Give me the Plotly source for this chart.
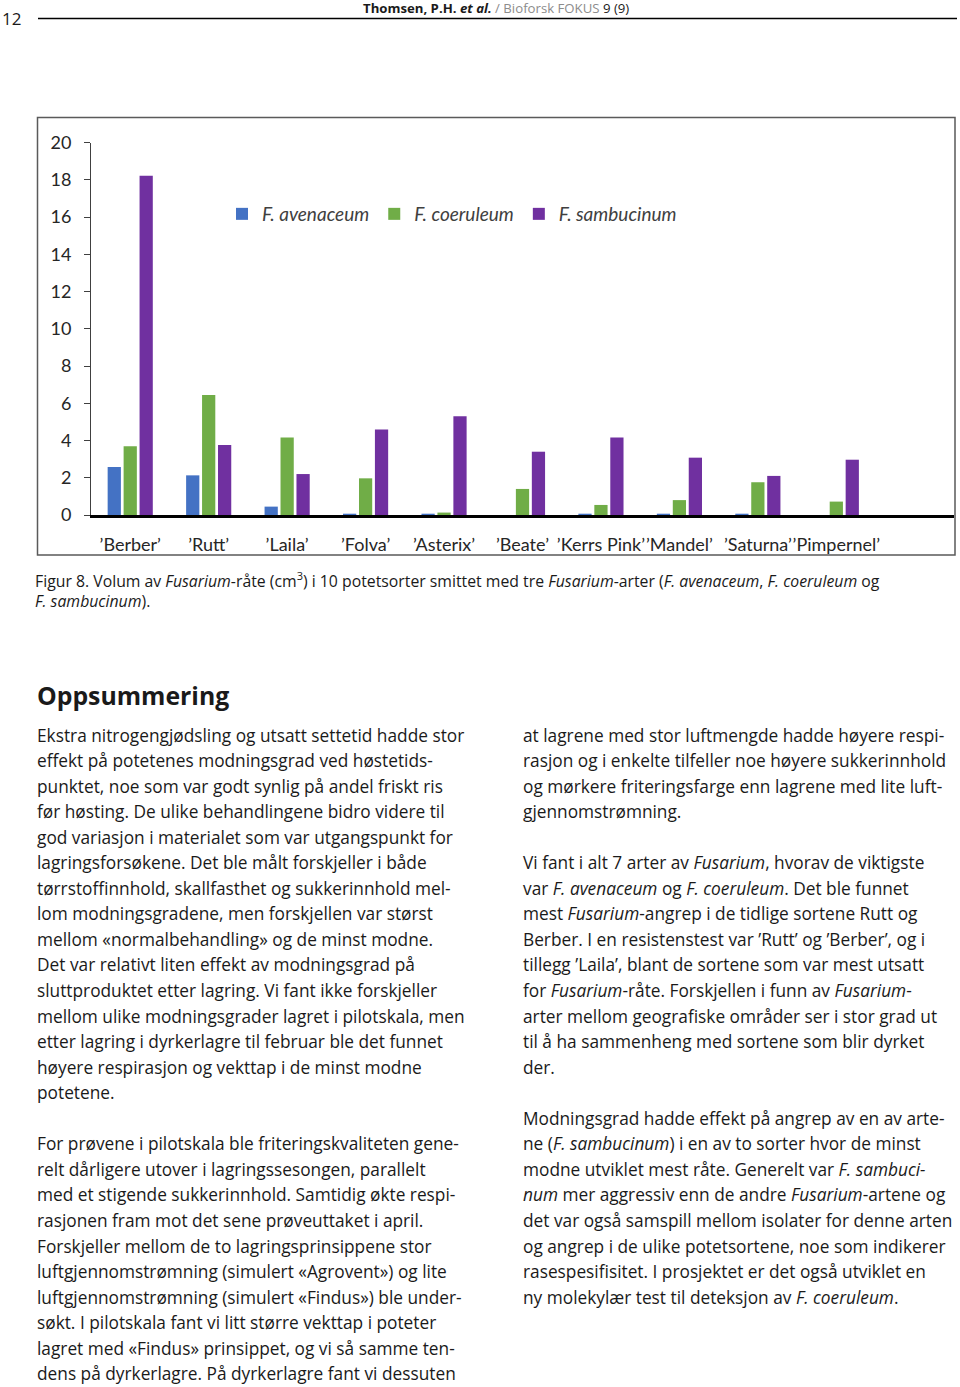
import plotly.graph_objects as go

# ---------------- data ----------------
categories = ["’Berber’", "’Rutt’", "’Laila’", "’Folva’", "’Asterix’",
              "’Beate’", "’Kerrs Pink’", "’Mandel’", "’Saturna’", "’Pimpernel’"]
f_avenaceum = [2.58, 2.13, 0.45, 0.03, 0.03, 0.0, 0.04, 0.05, 0.06, 0.0]
f_coeruleum = [3.69, 6.45, 4.17, 1.97, 0.13, 1.40, 0.54, 0.80, 1.76, 0.72]
f_sambucinum = [18.22, 3.76, 2.20, 4.59, 5.30, 3.40, 4.17, 3.08, 2.10, 2.97]
series_names = ["F. avenaceum", "F. coeruleum", "F. sambucinum"]
series_colors = ["#4472C4", "#70AD47", "#7030A0"]
y_ticks = [0, 2, 4, 6, 8, 10, 12, 14, 16, 18, 20]

W, H = 960, 1387


def px(x):
    return x / W


def py(y):
    return 1 - y / H


fig = go.Figure()
for name, vals, col in zip(series_names, [f_avenaceum, f_coeruleum, f_sambucinum], series_colors):
    fig.add_trace(go.Bar(x=categories, y=vals, name=name,
                         marker=dict(color=col, line=dict(width=0))))

CHART_FONT = "Lato, Carlito, sans-serif"
TEXT_FONT = "Open Sans, sans-serif"

fig.update_layout(
    width=W, height=H,
    margin=dict(l=0, r=0, t=0, b=0, pad=0, autoexpand=False),
    paper_bgcolor="white", plot_bgcolor="white",
    barmode="group", bargap=0.39, bargroupgap=0.17,
    showlegend=True,
    legend=dict(orientation="h", x=px(222), xanchor="left", y=py(214), yanchor="middle",
                font=dict(family=CHART_FONT, size=19, color="#404040", style="italic"),
                bgcolor="rgba(0,0,0,0)", traceorder="normal"),
    xaxis=dict(domain=[px(91), px(954)], range=[-0.5, 10.5], type="category",
               showline=True, linecolor="black", linewidth=2.5, showgrid=False,
               ticks="outside", ticklen=0, tickcolor="rgba(0,0,0,0)",
               ticklabelstandoff=12, tickangle=0, automargin=False,
               tickfont=dict(family=CHART_FONT, size=18, color="#262626")),
    yaxis=dict(domain=[py(515), py(142.7)], range=[0, 20], tickvals=y_ticks,
               showline=True, linecolor="#404040", linewidth=1, showgrid=False,
               zeroline=False, ticks="outside", ticklen=6, tickcolor="#404040",
               ticklabelstandoff=9, automargin=False,
               tickfont=dict(family=CHART_FONT, size=18, color="#262626")),
)

shapes = []
# chart frame
shapes.append(dict(type="rect", xref="paper", yref="paper",
                   x0=px(37.5), x1=px(955), y0=py(555), y1=py(117.5),
                   line=dict(color="#5a5a5a", width=1.5), fillcolor="rgba(0,0,0,0)", layer="below"))
# header rule
shapes.append(dict(type="line", xref="paper", yref="paper",
                   x0=px(38), x1=px(957), y0=py(18.5), y1=py(18.5),
                   line=dict(color="black", width=1.5)))
fig.update_layout(shapes=shapes)

ann = []


def text(x, y, s, size=17.3, color="#1a1a1a", family=TEXT_FONT, xanchor="left", yanchor="middle"):
    ann.append(dict(xref="paper", yref="paper", x=px(x), y=py(y), text=s,
                    showarrow=False, xanchor=xanchor, yanchor=yanchor, align="left",
                    font=dict(family=family, size=size, color=color)))


# header
text(0, 18, "12", size=17, color="#1a1a1a")
text(496, 7.5, "<b>Thomsen, P.H.</b> <b><i>et al.</i></b> <span style='color:#8c8c8c'>/ Bioforsk FOKUS</span> 9 (9)",
     size=13.2, color="#1a1a1a", xanchor="center")

# caption (two lines in one text block)
text(33, 566.5, "Figur 8. Volum av <i>Fusarium</i>-råte (cm<sup>3</sup>) i 10 potetsorter smittet med tre "
                "<i>Fusarium</i>-arter (<i>F. avenaceum</i>, <i>F. coeruleum</i> og<br>"
                "<i>F. sambucinum</i>).", size=15.8, yanchor="top")

# heading
text(35, 695, "<b>Oppsummering</b>", size=24.8)

left_lines = [
    "Ekstra nitrogengjødsling og utsatt settetid hadde stor",
    "effekt på potetenes modningsgrad ved høstetids-",
    "punktet, noe som var godt synlig på andel friskt ris",
    "før høsting. De ulike behandlingene bidro videre til",
    "god variasjon i materialet som var utgangspunkt for",
    "lagringsforsøkene. Det ble målt forskjeller i både",
    "tørrstoffinnhold, skallfasthet og sukkerinnhold mel-",
    "lom modningsgradene, men forskjellen var størst",
    "mellom «normalbehandling» og de minst modne.",
    "Det var relativt liten effekt av modningsgrad på",
    "sluttproduktet etter lagring. Vi fant ikke forskjeller",
    "mellom ulike modningsgrader lagret i pilotskala, men",
    "etter lagring i dyrkerlagre til februar ble det funnet",
    "høyere respirasjon og vekttap i de minst modne",
    "potetene.",
    "",
    "For prøvene i pilotskala ble friteringskvaliteten gene-",
    "relt dårligere utover i lagringssesongen, parallelt",
    "med et stigende sukkerinnhold. Samtidig økte respi-",
    "rasjonen fram mot det sene prøveuttaket i april.",
    "Forskjeller mellom de to lagringsprinsippene stor",
    "luftgjennomstrømning (simulert «Agrovent») og lite",
    "luftgjennomstrømning (simulert «Findus») ble under-",
    "søkt. I pilotskala fant vi litt større vekttap i poteter",
    "lagret med «Findus» prinsippet, og vi så samme ten-",
    "dens på dyrkerlagre. På dyrkerlagre fant vi dessuten",
]

right_lines = [
    "at lagrene med stor luftmengde hadde høyere respi-",
    "rasjon og i enkelte tilfeller noe høyere sukkerinnhold",
    "og mørkere friteringsfarge enn lagrene med lite luft-",
    "gjennomstrømning.",
    "",
    "Vi fant i alt 7 arter av <i>Fusarium</i>, hvorav de viktigste",
    "var <i>F. avenaceum</i> og <i>F. coeruleum</i>. Det ble funnet",
    "mest <i>Fusarium</i>-angrep i de tidlige sortene Rutt og",
    "Berber. I en resistenstest var ’Rutt’ og ’Berber’, og i",
    "tillegg ’Laila’, blant de sortene som var mest utsatt",
    "for <i>Fusarium</i>-råte. Forskjellen i funn av <i>Fusarium</i>-",
    "arter mellom geografiske områder ser i stor grad ut",
    "til å ha sammenheng med sortene som blir dyrket",
    "der.",
    "",
    "Modningsgrad hadde effekt på angrep av en av arte-",
    "ne (<i>F. sambucinum</i>) i en av to sorter hvor de minst",
    "modne utviklet mest råte. Generelt var <i>F. sambuci-</i>",
    "<i>num</i> mer aggressiv enn de andre <i>Fusarium</i>-artene og",
    "det var også samspill mellom isolater for denne arten",
    "og angrep i de ulike potetsortene, noe som indikerer",
    "rasespesifisitet. I prosjektet er det også utviklet en",
    "ny molekylær test til deteksjon av <i>F. coeruleum</i>.",
]

LINE0, STEP = 735, 25.55
for i, s in enumerate(left_lines):
    if s:
        text(35, LINE0 + i * STEP, s)
for i, s in enumerate(right_lines):
    if s:
        text(521, LINE0 + i * STEP, s)

fig.update_layout(annotations=ann)
fig.write_html("out.html", config={"displayModeBar": False},
               post_script="document.body.style.margin='0';")
